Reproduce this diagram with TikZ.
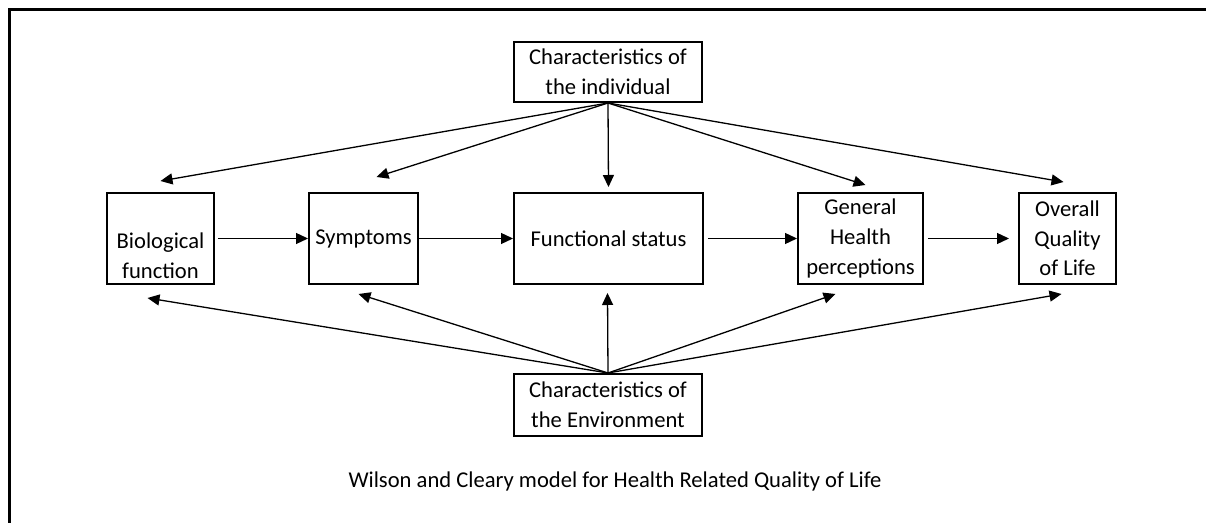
\documentclass[tikz,border=0pt]{standalone}
\usepackage{fontspec}
\setmainfont{Carlito}
\usepackage{tikz}
\usetikzlibrary{arrows.meta}
\usetikzlibrary{calc}

\tikzset{
  box/.style={draw,line width=1pt,align=center,inner sep=1pt,
    font=\fontsize{11.3}{14.8}\selectfont},
  arr/.style={-{Triangle[length=6pt,width=5.5pt]},line width=0.65pt},
}

\begin{document}
\begin{tikzpicture}[x=0.5pt,y=-0.5pt]
      \useasboundingbox (0,0) rectangle (1206,523);
      \draw[line width=1.5pt] (1206,10) -- (9,10) -- (9,523);
      % boxes
      \node[box,minimum width=94pt,minimum height=30pt] (indiv) at (608,72)
        {Characteristics of\\the individual};
      \node[box,minimum width=53.5pt,minimum height=45.5pt] (bio) at (160.5,238.5)
        {\strut\\Biological\\function};
      \node[box,minimum width=54.5pt,minimum height=45.5pt] (sym) at (363.5,238.5)
        {Symptoms};
      \node[box,minimum width=94.5pt,minimum height=45.5pt] (fun) at (608.5,238.5)
        {Functional status};
      \node[box,minimum width=62.5pt,minimum height=45.5pt] (gh) at (860.5,238.5)
        {General\\Health\\perceptions};
      \node[box,minimum width=48.5pt,minimum height=45.5pt] (oql) at (1067.5,238.5)
        {Overall\\Quality\\of Life};
      \node[box,minimum width=94pt,minimum height=31pt] (env) at (608,405)
        {Characteristics of\\the Environment};
      \node[font=\fontsize{11.3}{14.8}\selectfont] (cap) at (615,481)
        {Wilson and Cleary model for Health Related Quality of Life};
      % chain
      \draw[arr,shorten <=1.5pt] (bio.east) -- (sym.west);
      \draw[arr] (sym.east) -- (fun.west);
      \draw[arr,shorten <=2pt] (fun.east) -- (gh.west);
      \draw[arr,shorten <=2pt,shorten >=4.5pt] (gh.east) -- (oql.west);
      % individual
      \draw[arr] (indiv.south) -- ($(bio.north)+(0,-11)$);
      \draw[arr] (indiv.south) -- ($(sym.north)+(13,-15)$);
      \draw[arr] (indiv.south) -- ($(fun.north)+(0,-5)$);
      \draw[arr] (indiv.south) -- ($(gh.north)+(5,-7)$);
      \draw[arr] (indiv.south) -- ($(oql.north)+(-4,-10)$);
      % environment
      \draw[arr] (env.north) -- ($(bio.south)+(-13,13)$);
      \draw[arr] (env.north) -- ($(sym.south)+(-5,9)$);
      \draw[arr] (env.north) -- ($(fun.south)+(-1,8)$);
      \draw[arr] (env.north) -- ($(gh.south)+(-25,9)$);
      \draw[arr] (env.north) -- ($(oql.south)+(-6,9)$);
    \end{tikzpicture}
\end{document}
